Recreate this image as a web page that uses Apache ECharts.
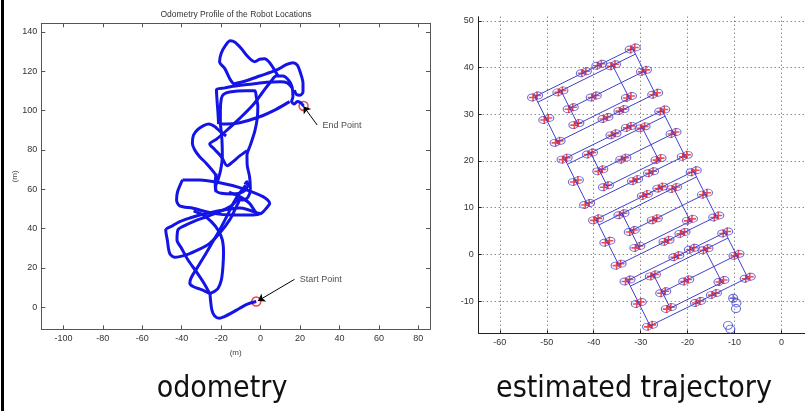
<!DOCTYPE html>
<html>
<head>
<meta charset="utf-8">
<script src="https://cdn.jsdelivr.net/npm/echarts@6.0.0/dist/echarts.min.js"></script>
<style>
html, body { margin: 0; padding: 0; background: #fff; }
#chart { width: 805px; height: 411px; }
</style>
</head>
<body>
<div id="chart"></div>
<script>
// ---- odometry (left), metres ----
const odoTail = [[-2.2,2.9],[-6.4,1.7],[-10.6,-0.5],[-14.9,-3.0],[-18.3,-4.7],[-20.8,-5.6],[-23.3,-4.4],[-24.7,-1.4],[-25.4,3.7],[-25.6,6.8],[-23.5,8.0],[-21.6,9.5],[-19.9,13.9],[-19.1,20.7],[-18.8,27.4],[-19.4,34.2],[-21.6,39.3],[-25.0,43.5],[-29.2,46.9],[-34.0,49.0]];
const odoLoopMid = [[-39.6,64.7],[-30.8,64.7],[-20.7,63.3],[-10.6,60.8],[1.2,56.2],[4.6,52.8],[2.9,50.3],[0.3,47.7],[-3.9,46.9],[-14.0,46.9],[-24.1,47.7],[-34.2,50.3],[-41.0,51.5],[-42.6,54.5],[-42.1,58.7],[-39.6,64.7]];
const odoLoopLow = [[-9.8,56.2],[-12.3,51.1],[-15.7,44.4],[-20.8,37.6],[-25.8,32.5],[-30.9,29.5],[-37.7,26.6],[-43.6,25.4],[-46.1,27.4],[-47.3,34.2],[-48.1,39.3],[-44.5,41.5],[-41.0,43.5],[-35.5,45.5],[-30.9,46.9],[-25.0,48.2],[-18.0,49.5],[-10.6,50.5],[-2.0,48.0]];
const odoInner = [[-25.9,7.1],[-28.7,12.2],[-32.6,18.1],[-36.8,24.0],[-40.1,30.0],[-42.4,34.2],[-41.9,39.3],[-38.5,41.5],[-33.5,43.8],[-27.5,46.0],[-21.0,48.5],[-15.0,51.5],[-11.5,55.0]];
const odoLowLeft = [[-25.9,7.1],[-30.0,9.0],[-34.0,10.4],[-35.9,12.2],[-35.2,15.0],[-32.5,19.5],[-28.5,26.0],[-25.0,32.0],[-21.5,38.0],[-18.5,43.5],[-16.0,48.5],[-13.5,53.5],[-11.0,57.5],[-7.5,62.0]];
const odoSmallLoop = [[-22.5,68.0],[-23.0,63.5],[-22.8,59.6],[-19.9,57.9],[-14.0,57.6],[-8.9,58.7],[-6.4,62.1],[-6.9,63.8],[-8.0,62.5]];
const odoCross = [[-16.0,58.5],[-10.6,56.2],[-5.6,52.8],[-2.2,48.1],[0.3,47.7]];
const odoLeftLoop = [[-21.6,64.7],[-23.3,68.1],[-27.5,73.1],[-30.9,76.5],[-33.4,79.9],[-34.6,83.3],[-34.0,87.5],[-31.8,90.4],[-28.9,92.3],[-26.2,93.1],[-23.3,91.8],[-20.8,89.6],[-17.5,87.0]];
const odoVertical = [[-20.4,93.4],[-19.6,85.0],[-19.4,77.0],[-20.2,70.0],[-21.6,64.7],[-22.8,61.3],[-22.6,58.5]];
const odoDiagonal = [[-6.9,79.6],[-10.6,76.9],[-14.0,74.0],[-16.9,71.9],[-19.9,76.5],[-23.3,80.2],[-25.8,83.0],[-22.5,85.3],[-17.4,89.7],[-10.6,96.0],[-3.9,102.8],[1.2,109.5],[5.4,115.0],[7.9,117.5],[11.3,117.5],[14.4,115.1],[16.0,111.7],[16.4,107.0],[15.7,104.5],[17.1,103.3],[18.6,104.5],[20.1,104.0],[21.8,102.3]];
const odoRightSide = [[14.7,104.5],[7.9,100.6],[-0.5,96.8],[-10.6,93.8],[-17.4,93.1],[-20.4,93.4],[-20.4,100.2],[-19.9,106.1],[-18.8,108.2],[-15.7,109.4],[-7.3,110.0],[-3.0,110.0],[-2.2,107.0],[-1.4,101.9],[-1.7,96.0],[-3.0,89.2],[-5.2,82.4],[-6.9,77.4],[-6.8,72.3],[-5.6,66.4],[-5.2,60.4],[-6.4,55.9],[-9.3,54.5],[-12.3,55.4]];
const odoOuterLeft = [[-21.3,93.1],[-21.6,98.5],[-22.1,105.3],[-22.4,110.5],[-18.0,111.5],[-14.0,112.3],[-4.0,113.5],[3.0,114.3],[10.0,114.6],[13.5,114.0],[16.0,111.5]];
const odoTopLoop = [[-12.0,112.4],[-14.0,113.8],[-15.7,116.3],[-18.2,121.4],[-20.8,124.8],[-20.0,129.0],[-17.7,133.2],[-15.4,135.4],[-13.0,134.7],[-9.8,131.5],[-6.4,127.3],[-3.0,124.8],[-0.5,126.0],[2.0,126.3],[4.6,124.3],[7.1,120.5],[8.8,117.5]];
const odoTopRight = [[-14.0,113.4],[-7.3,115.1],[-0.5,117.5],[7.9,120.5],[13.3,123.4],[16.4,124.3],[18.6,123.1],[20.3,118.8],[21.5,113.8],[21.5,109.5],[20.1,107.8],[18.1,108.2],[17.2,110.4]];

const odoEnds = [[-2.2,2.9],[21.8,102.3]];
const odoNotes = [[31.4,92.6,'End Point'],[19.8,14.2,'Start Point']];
const odoArrows = [[[28.7,92.6],[21.7,102.2]],[[17.2,14.2],[-1.4,3.2]]];

// ---- estimated trajectory (right) ----
const blockOutline = [
  [[-52.5,33.8],[-31.7,44.1],[-26.9,34.4],[-47.7,24.1],[-52.5,33.8]],
  [[-46.2,20.5],[-25.4,30.8],[-20.6,21.1],[-41.4,10.8],[-46.2,20.5]],
  [[-39.5,7.5],[-18.7,17.8],[-13.9,8.1],[-34.7,-2.2],[-39.5,7.5]],
  [[-32.8,-5.6],[-12.0,4.7],[-7.2,-5.0],[-28.0,-15.3],[-32.8,-5.6]]
];
const innerTopLines = [
  [[-51.9,32.6],[-31.1,42.9]],
  [[-45.6,19.3],[-24.8,29.6]],
  [[-38.9,6.3],[-18.1,16.6]],
  [[-32.2,-6.8],[-11.4,3.5]]
];
const innerLoops = [
  [[-47.0,35.1],[-43.4,27.9],[-32.4,33.4],[-36.0,40.5]],
  [[-40.7,21.8],[-37.1,14.6],[-26.1,20.1],[-29.7,27.2]],
  [[-34.0,8.8],[-30.4,1.6],[-19.4,7.1],[-23.0,14.2]],
  [[-27.3,-4.3],[-23.7,-11.5],[-12.7,-6.0],[-16.3,1.1]]
];
const midLines = [
  [[-45.1,31.3],[-29.3,39.2]],
  [[-38.8,18.0],[-23.0,25.9]],
  [[-32.1,5.0],[-16.3,12.9]],
  [[-25.4,-8.1],[-9.6,-0.2]]
];
const trajNodes = [
  [-52.5,33.8],[-42.1,39.0],[-38.8,40.6],[-31.7,44.1],[-29.3,39.3],[-26.9,34.4],[-34.1,30.9],[-37.5,29.2],
  [-47.7,24.1],[-50.1,29.0],[-47.1,34.9],[-35.9,40.5],[-44.9,31.3],[-40.0,33.8],[-43.7,27.9],[-32.5,33.7],
  [-46.2,20.5],[-35.8,25.7],[-32.5,27.3],[-25.4,30.8],[-23.0,26.0],[-20.6,21.1],[-27.8,17.6],[-31.2,15.9],
  [-41.4,10.8],[-43.8,15.7],[-40.8,21.6],[-29.6,27.2],[-38.6,18.0],[-33.7,20.5],[-37.4,14.6],[-26.2,20.4],
  [-39.5,7.5],[-29.1,12.7],[-25.8,14.3],[-18.7,17.8],[-16.3,13.0],[-13.9,8.1],[-21.1,4.6],[-24.5,2.9],
  [-34.7,-2.2],[-37.1,2.7],[-34.1,8.6],[-22.9,14.2],[-31.9,5.0],[-27.0,7.5],[-30.7,1.6],[-19.5,7.4],
  [-32.8,-5.6],[-22.4,-0.4],[-19.1,1.2],[-12.0,4.7],[-9.6,-0.1],[-7.2,-5.0],[-14.4,-8.5],[-17.8,-10.2],
  [-28.0,-15.3],[-30.4,-10.4],[-27.4,-4.5],[-16.2,1.1],[-25.2,-8.1],[-20.3,-5.6],[-24.0,-11.5],[-12.8,-5.7]
];
const strayNodes = [[-10.3,-9.4],[-9.6,-10.4],[-9.7,-11.6],[-11.4,-15.2],[-10.9,-16.0]];

const odoStrokes = [odoTail, odoLoopMid, odoLoopLow, odoInner, odoLowLeft, odoSmallLoop, odoCross,
  odoLeftLoop, odoVertical, odoDiagonal, odoRightSide, odoOuterLeft, odoTopLoop, odoTopRight];
const trajLines = [...blockOutline, ...innerTopLines, ...innerLoops, ...midLines];

const plusPath = 'path://M4,0h2v4h4v2h-4v4h-2v-4h-4v-2h4z';
const axisFont = { fontSize: 9, color: '#333', fontFamily: 'Liberation Sans' };

const chart = echarts.init(document.getElementById('chart'));

const boxAxis = {
  type: 'value',
  axisLine: { onZero: false, lineStyle: { color: '#555', width: 1 } },
  axisTick: { inside: true, length: 4, lineStyle: { color: '#555' } },
  splitLine: { show: false }
};

const option = {
  animation: false,
  grid: [
    { left: 41.3, top: 23.3, width: 388.7, height: 306 },
    { left: 478.7, top: 16.7, width: 326.3, height: 316.6 }
  ],
  xAxis: [
    Object.assign({}, boxAxis, {
      gridIndex: 0, position: 'bottom', min: -111.2, max: 85.9, splitNumber: 10,
      axisLabel: Object.assign({ margin: 5, showMinLabel: false, showMaxLabel: false }, axisFont),
      name: '(m)', nameLocation: 'middle', nameGap: 19,
      nameTextStyle: { fontSize: 8, color: '#444', fontFamily: 'Liberation Sans' }
    }),
    Object.assign({}, boxAxis, {
      gridIndex: 0, position: 'top', min: -111.2, max: 85.9, splitNumber: 10,
      axisLabel: { show: false }
    }),
    {
      type: 'value', gridIndex: 1, position: 'bottom', min: -64.5, max: 5,
      axisLine: { onZero: false, lineStyle: { color: '#222' } },
      axisTick: { inside: true, length: 3, lineStyle: { color: '#222' } },
      axisLabel: Object.assign({ margin: 5, showMinLabel: false, showMaxLabel: false }, axisFont),
      splitLine: { show: true, showMinLine: false, showMaxLine: false,
        lineStyle: { type: [1, 3], color: '#555', width: 1 } }
    }
  ],
  yAxis: [
    Object.assign({}, boxAxis, {
      gridIndex: 0, position: 'left', min: -11.2, max: 144.3, splitNumber: 8,
      axisLabel: Object.assign({ margin: 4, showMinLabel: false, showMaxLabel: false }, axisFont),
      name: '(m)', nameLocation: 'middle', nameGap: 22,
      nameTextStyle: { fontSize: 8, color: '#444', fontFamily: 'Liberation Sans' }
    }),
    Object.assign({}, boxAxis, {
      gridIndex: 0, position: 'right', min: -11.2, max: 144.3, splitNumber: 8,
      axisLabel: { show: false }
    }),
    {
      type: 'value', gridIndex: 1, position: 'left', min: -16.9, max: 50.9,
      axisLine: { onZero: false, lineStyle: { color: '#222' } },
      axisTick: { inside: true, length: 3, lineStyle: { color: '#222' } },
      axisLabel: Object.assign({ margin: 5, showMinLabel: false, showMaxLabel: false }, axisFont),
      splitLine: { show: true, showMinLine: false, showMaxLine: false,
        lineStyle: { type: [1, 3], color: '#555', width: 1 } }
    }
  ],
  graphic: [
    { type: 'rect', shape: { x: 1, y: 0, width: 3, height: 411 }, style: { fill: '#000' } },
    { type: 'text', x: 236, y: 15, style: { text: 'Odometry Profile of the Robot Locations',
      fontSize: 8.5, fontFamily: 'Liberation Sans', fill: '#333', align: 'center', verticalAlign: 'middle' } },
    { type: 'text', x: 222, y: 389, style: { text: 'odometry',
      fontSize: 30, fontFamily: 'DejaVu Sans Condensed, DejaVu Sans', fill: '#111', align: 'center', verticalAlign: 'middle' } },
    { type: 'text', x: 634, y: 389, style: { text: 'estimated trajectory',
      fontSize: 30, fontFamily: 'DejaVu Sans Condensed, DejaVu Sans', fill: '#111', align: 'center', verticalAlign: 'middle' } }
  ],
  series: [
    ...odoStrokes.map(d => ({
      type: 'line', xAxisIndex: 0, yAxisIndex: 0, data: d, symbol: 'none', smooth: 0.3, silent: true,
      lineStyle: { color: '#1414e6', width: 3 }
    })),
    {
      type: 'scatter', xAxisIndex: 0, yAxisIndex: 0, data: odoEnds, symbol: 'circle', symbolSize: 9,
      itemStyle: { color: 'rgba(0,0,0,0)', borderColor: '#e02020', borderWidth: 1.5 },
      markLine: {
        silent: true, symbol: ['none', 'arrow'], symbolSize: 7,
        lineStyle: { color: '#000', type: 'solid', width: 1 },
        label: { show: false },
        data: odoArrows.map(a => [{ coord: a[0] }, { coord: a[1] }])
      }
    },
    {
      type: 'scatter', xAxisIndex: 0, yAxisIndex: 0, data: odoNotes, symbolSize: 0,
      itemStyle: { color: 'rgba(0,0,0,0)' },
      label: { show: true, position: 'right', distance: 0, formatter: p => p.value[2],
        fontSize: 9, color: '#222', fontFamily: 'Liberation Sans' }
    },
    ...trajLines.map(d => ({
      type: 'line', xAxisIndex: 2, yAxisIndex: 2, data: d, symbol: 'none', silent: true,
      lineStyle: { color: '#4040c8', width: 1 }
    })),
    ...[[-3, 1], [3, -1]].map(off => ({
      type: 'scatter', xAxisIndex: 2, yAxisIndex: 2, data: trajNodes, symbol: 'circle',
      symbolSize: [9, 7], symbolOffset: off,
      itemStyle: { color: 'rgba(0,0,0,0)', borderColor: '#4a4ad4', borderWidth: 1 }
    })),
    ...[[-2, 1], [2, -1]].map(off => ({
      type: 'scatter', xAxisIndex: 2, yAxisIndex: 2, data: trajNodes, symbol: plusPath,
      symbolSize: 8, symbolOffset: off, itemStyle: { color: '#e8202a' }
    })),
    {
      type: 'scatter', xAxisIndex: 2, yAxisIndex: 2, data: strayNodes, symbol: 'circle',
      symbolSize: [9, 8], itemStyle: { color: 'rgba(0,0,0,0)', borderColor: '#3c3cd0', borderWidth: 1 }
    },
    {
      type: 'scatter', xAxisIndex: 2, yAxisIndex: 2, data: strayNodes.slice(0, 1), symbol: plusPath,
      symbolSize: 7, itemStyle: { color: '#3c3cd0' }
    }
  ]
};

chart.setOption(option);
</script>
</body>
</html>
